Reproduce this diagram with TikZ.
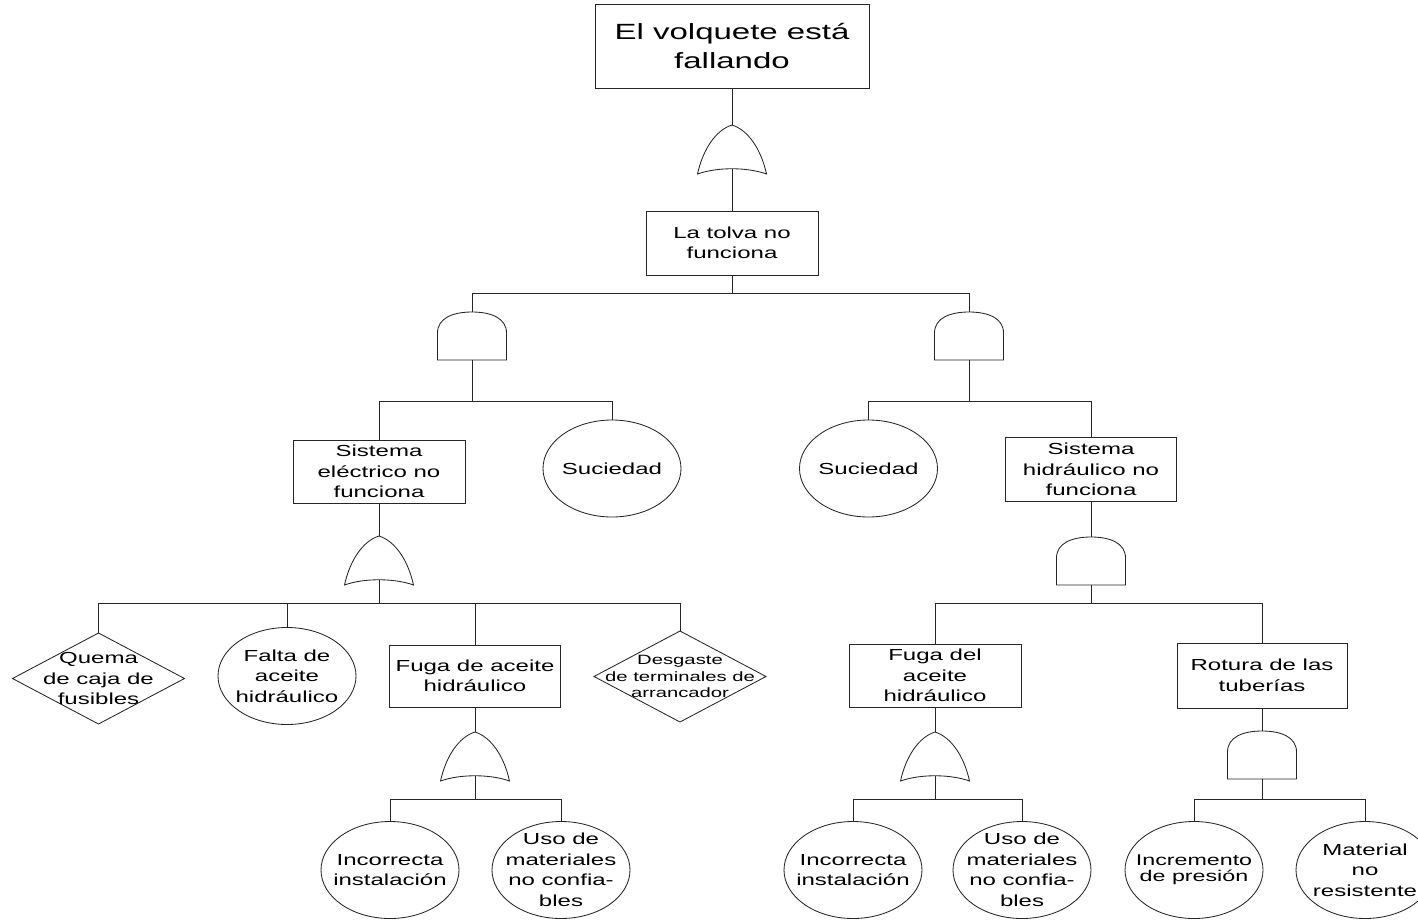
\documentclass[tikz,border=0pt]{standalone}
\usepackage{fontspec}
\setmainfont[FakeStretch=1.5]{Liberation Sans}
\usetikzlibrary{shapes.geometric}

% OR gate: name, centre x, apex y (image-style coordinates, y downwards)
\newcommand\ftOr[3]{%
  \draw[gate] (#2-34.5,#3+49) .. controls (#2-29,#3+24) and (#2-16,#3+5) .. (#2,#3)
     .. controls (#2+16,#3+5) and (#2+29,#3+24) .. (#2+34.5,#3+49)
     .. controls (#2+15,#3+42) and (#2-15,#3+42) .. cycle;
  \coordinate (#1-in) at (#2,#3);
  \coordinate (#1-out) at (#2,#3+44);}
% AND gate: name, centre x, top y
\newcommand\ftAnd[3]{%
  \draw[gate] (#2-34.5,#3+48) -- (#2-34.5,#3+21)
     .. controls (#2-34.5,#3+6) and (#2-19,#3) .. (#2,#3)
     .. controls (#2+19,#3) and (#2+34.5,#3+6) .. (#2+34.5,#3+21)
     -- (#2+34.5,#3+48) -- cycle;
  \coordinate (#1-in) at (#2,#3);
  \coordinate (#1-out) at (#2,#3+48);}

\tikzset{
  line/.style={draw=black!85, line width=0.85pt},
  gate/.style={line, fill=white},
  txt/.style={align=center, font=\fontsize{16}{20.5}\selectfont},
  small/.style={align=center, font=\fontsize{13.5}{16.5}\selectfont},
  smallb/.style={align=center, font=\fontsize{15.5}{16}\selectfont},
  event/.style={line, rectangle, inner sep=0pt, outer sep=0pt, txt},
  basic/.style={line, ellipse, inner sep=0pt, outer sep=0pt,
                minimum width=138pt, minimum height=97pt},
  undev/.style={line, diamond, inner sep=0pt, outer sep=0pt,
                minimum width=172pt, minimum height=91pt},
  every label/.style={inner sep=0pt, outer sep=0pt},
}

\begin{document}
\begin{tikzpicture}[x=1pt,y=-1pt]
\useasboundingbox (0,0) rectangle (1418,921);

% top event
\node[event, minimum width=274pt, minimum height=84pt,
      font=\fontsize{22}{29}\selectfont] (top) at (732,46) {El volquete está\\fallando};
\ftOr{g1}{732}{125}
\node[event, minimum width=172pt, minimum height=64pt] (tolva) at (732,243) {La tolva no\\funciona};

% second level gates
\ftAnd{g2}{472}{312}
\ftAnd{g3}{969}{312}

% left branch
\node[event, minimum width=172pt, minimum height=63pt] (elec) at (379,471.5) {Sistema\\eléctrico no\\funciona};
\node[basic, label={[txt]center:Suciedad}] (suc1) at (612,468.5) {};
\ftOr{g4}{379}{536}
\node[undev, label={[txt]center:{Quema\\de caja de\\fusibles}}] (quema) at (98.5,678.5) {};
\node[basic, label={[txt]center:{Falta de\\aceite\\hidráulico}}] (falta) at (287,676) {};
\node[event, minimum width=171pt, minimum height=62pt] (fuga1) at (475,676) {Fuga de aceite\\hidráulico};
\node[undev, label={[small]center:{Desgaste\\de terminales de\\arrancador}}] (desg) at (680,676.5) {};
\ftOr{g6}{475}{732}
\node[basic, label={[txt]center:{Incorrecta\\instalación}}] (inc1) at (390,870) {};
\node[basic, label={[txt]center:{Uso de\\materiales\\no confia-\\bles}}] (uso1) at (561,870) {};

% right branch
\node[basic, label={[txt]center:Suciedad}] (suc2) at (868.5,468.5) {};
\node[event, minimum width=171pt, minimum height=64pt] (hid) at (1091,469.5) {Sistema\\hidráulico no\\funciona};
\ftAnd{g5}{1091}{537}
\node[event, minimum width=172pt, minimum height=63pt] (fuga2) at (935,675.5) {Fuga del\\aceite\\hidráulico};
\node[event, minimum width=170pt, minimum height=65pt] (rot) at (1262,675.5) {Rotura de las\\tuberías};
\ftOr{g7}{935}{732}
\ftAnd{g8}{1262}{731}
\node[basic, label={[txt]center:{Incorrecta\\instalación}}] (inc2) at (853,870) {};
\node[basic, label={[txt]center:{Uso de\\materiales\\no confia-\\bles}}] (uso2) at (1022,870) {};
\node[basic, label={[smallb]center:{Incremento\\de presión}}] (incr) at (1194,870) {};
\node[basic, label={[txt]center:{Material\\no\\resistente}}] (mat) at (1365,870) {};

% bus junctions
\coordinate (b1) at (732,293);
\coordinate (b2) at (472,401);
\coordinate (b3) at (969,401);
\coordinate (b4) at (379,603);
\coordinate (b5) at (1091,603);
\coordinate (b6) at (475,799);
\coordinate (b7) at (935,799);
\coordinate (b8) at (1262,799);

% connectors
\draw[line] (top.south) -- (g1-in);
\draw[line] (g1-out) -- (tolva.north);
\draw[line] (tolva.south) -- (b1);
\draw[line] (b1) -| (g2-in);
\draw[line] (b1) -| (g3-in);

\draw[line] (g2-out) -- (b2);
\draw[line] (b2) -| (elec.north);
\draw[line] (b2) -| (suc1.north);
\draw[line] (g3-out) -- (b3);
\draw[line] (b3) -| (suc2.north);
\draw[line] (b3) -| (hid.north);

\draw[line] (elec.south) -- (g4-in);
\draw[line] (g4-out) -- (b4);
\draw[line] (b4) -| (quema.north);
\draw[line] (b4) -| (falta.north);
\draw[line] (b4) -| (fuga1.north);
\draw[line] (b4) -| (desg.north);

\draw[line] (hid.south) -- (g5-in);
\draw[line] (g5-out) -- (b5);
\draw[line] (b5) -| (fuga2.north);
\draw[line] (b5) -| (rot.north);

\draw[line] (fuga1.south) -- (g6-in);
\draw[line] (g6-out) -- (b6);
\draw[line] (b6) -| (inc1.north);
\draw[line] (b6) -| (uso1.north);

\draw[line] (fuga2.south) -- (g7-in);
\draw[line] (g7-out) -- (b7);
\draw[line] (b7) -| (inc2.north);
\draw[line] (b7) -| (uso2.north);

\draw[line] (rot.south) -- (g8-in);
\draw[line] (g8-out) -- (b8);
\draw[line] (b8) -| (incr.north);
\draw[line] (b8) -| (mat.north);
\end{tikzpicture}
\end{document}
